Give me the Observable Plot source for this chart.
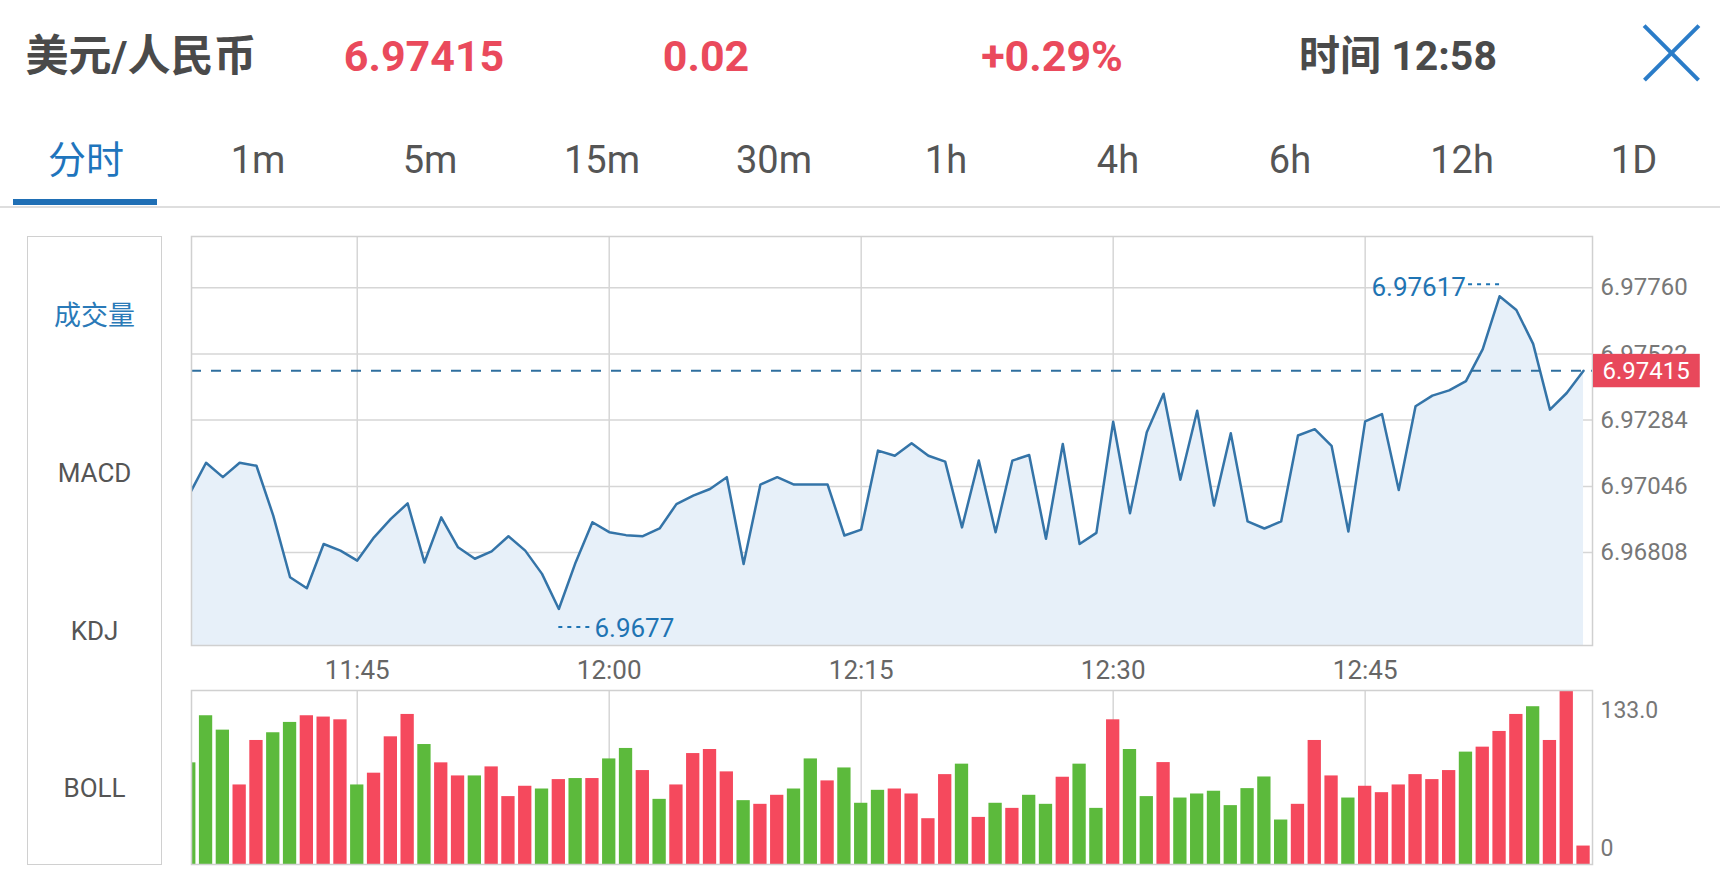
<!DOCTYPE html>
<html>
<head>
<meta charset="utf-8">
<script src="https://cdn.jsdelivr.net/npm/d3@7"></script>
<script src="https://cdn.jsdelivr.net/npm/@observablehq/plot@0.6"></script>
<style>
  html, body { margin: 0; padding: 0; background: #fff; width: 1720px; height: 884px; overflow: hidden;
    font-family: Roboto, "Noto Sans CJK SC", sans-serif; }
  #page { position: relative; width: 1720px; height: 884px; background: #fff; }
  .hd { position: absolute; top: 56px; transform: translate(-50%, -50%); line-height: 1; font-weight: 700;
    font-size: 43px; white-space: nowrap; }
  .dark { color: #4a4a4a; }
  .red { color: #ea4a5c; }
  #tabs { position: absolute; left: 0; top: 160px; width: 1720px; display: flex; transform: translateY(-50%); }
  #tabs div { width: 172px; text-align: center; font-size: 38px; line-height: 1; color: #555; }
  #tabs div.on { color: #1f75bd; }
  #underline { position: absolute; left: 13px; top: 199px; width: 144px; height: 6px; background: #1f6fb5; }
  #sep { position: absolute; left: 0; top: 206px; width: 1720px; height: 1.5px; background: #dedede; }
  #close { position: absolute; left: 1644px; top: 25px; width: 54px; height: 55px; }
  #close span { position: absolute; left: -11px; top: 26px; width: 77px; height: 3.5px; background: #2a7cc8; }
  #side { position: absolute; left: 27px; top: 236px; width: 135px; height: 629px; box-sizing: border-box;
    border: 1.5px solid #d0d0d0; }
  .side { position: absolute; left: 94.5px; transform: translate(-50%, -50%); line-height: 1; font-size: 26px;
    color: #555; white-space: nowrap; }
  #main { position: absolute; left: 175px; top: 220px; }
  #vol { position: absolute; left: 175px; top: 685px; }
</style>
</head>
<body>
<div id="page">
  <div class="hd dark" style="left:141px">美元/人民币</div>
  <div class="hd red" id="hPrice" style="left:424px"></div>
  <div class="hd red" id="hChange" style="left:706px"></div>
  <div class="hd red" id="hPct" style="left:1052px"></div>
  <div class="hd dark" id="hTime" style="left:1398px;font-size:41px"></div>
  <div id="close"><span style="transform:rotate(45deg)"></span><span style="transform:rotate(-45deg)"></span></div>
  <div id="tabs"></div>
  <div id="underline"></div>
  <div id="sep"></div>
  <div id="side"></div>
  <div class="side" style="top:316px;color:#2a7ab8;font-size:27px">成交量</div>
  <div class="side" style="top:473px">MACD</div>
  <div class="side" style="top:631px">KDJ</div>
  <div class="side" style="top:788px">BOLL</div>
  <div id="main"></div>
  <div id="vol"></div>
</div>
<script>
// ---------------- data ----------------
const pairName = "美元/人民币";
const headerPrice = "6.97415";
const headerChange = "0.02";
const headerPct = "+0.29%";
const headerTime = "12:58";
const tabLabels = ["分时", "1m", "5m", "15m", "30m", "1h", "4h", "6h", "12h", "1D"];

const startTime = "11:35";   // one point per minute, 11:35 … 12:58
const prices = [
  6.97080, 6.97166, 6.97127, 6.97166, 6.97158, 6.97023, 6.96856, 6.96826, 6.96946, 6.96928,
  6.96901, 6.96964, 6.97014, 6.97056, 6.96896, 6.97018, 6.96937, 6.96906, 6.96926, 6.96967,
  6.96928, 6.96865, 6.96770, 6.96896, 6.97005, 6.96978, 6.96970, 6.96967, 6.96988, 6.97054,
  6.97077, 6.97095, 6.97127, 6.96892, 6.97107, 6.97127, 6.97107, 6.97107, 6.97107, 6.96969,
  6.96985, 6.97199, 6.97185, 6.97219, 6.97185, 6.97169, 6.96991, 6.97172, 6.96978, 6.97172,
  6.97187, 6.96960, 6.97217, 6.96946, 6.96976, 6.97277, 6.97029, 6.97249, 6.97353, 6.97120,
  6.97307, 6.97050, 6.97246, 6.97007, 6.96988, 6.97007, 6.97240, 6.97257, 6.97212, 6.96980,
  6.97278, 6.97298, 6.97092, 6.97319, 6.97348, 6.97362, 6.97387, 6.97474, 6.97617, 6.97580,
  6.97488, 6.97310, 6.97355, 6.97415
];
const volumes = [
  77.7, 113.7, 102.7, 60.8, 94.8, 100.7, 108.6, 113.7, 112.7, 110.6,
  60.8, 69.8, 97.6, 114.7, 91.7, 77.7, 67.7, 67.7, 74.6, 51.9,
  59.8, 57.7, 64.9, 65.7, 65.7, 80.7, 88.7, 71.8, 49.8, 60.8,
  84.8, 87.9, 70.8, 48.8, 46.0, 52.9, 57.7, 80.7, 63.9, 73.8,
  46.8, 56.7, 57.7, 53.9, 35.0, 68.7, 76.7, 36.0, 46.8, 42.9,
  52.9, 46.0, 66.7, 76.7, 42.9, 110.6, 87.9, 51.9, 77.9, 50.8,
  53.9, 56.0, 45.0, 58.0, 66.9, 34.0, 46.0, 94.8, 67.7, 50.8,
  59.8, 54.9, 60.8, 68.7, 64.9, 71.8, 85.9, 89.7, 101.7, 114.7,
  120.6, 94.8, 133.0, 14.1
];
// r = up (red), g = down (green)
const barDirections = (
  "gggrrggrrr" + "grrrgrrgrr" + "rgrgrggrgr" + "rrrgrrggrg" + "ggrrrrgrgr" +
  "ggrggrggrg" + "ggggggrrrg" + "rrrrrrgrrr" + "grrr").split("");

const currentPrice = 6.97415;
const currentLabel = "6.97415";
const xTickLabels = ["11:45", "12:00", "12:15", "12:30", "12:45"];
const yGridValues = [6.96923, 6.97102, 6.97282, 6.97461, 6.97640];
const yTickLabels = ["6.96808", "6.97046", "6.97284", "6.97522", "6.97760"];
const yDomain = [6.96671, 6.97779];

// ---------------- header ----------------
document.getElementById("hPrice").textContent = headerPrice;
document.getElementById("hChange").textContent = headerChange;
document.getElementById("hPct").textContent = headerPct;
document.getElementById("hTime").textContent = "时间 " + headerTime;
const tabs = document.getElementById("tabs");
tabLabels.forEach((t, i) => {
  const d = document.createElement("div");
  d.textContent = t;
  if (i === 0) d.className = "on";
  tabs.appendChild(d);
});

// ---------------- chart ----------------
const parseHM = s => { const [h, m] = s.split(":").map(Number); return new Date(Date.UTC(2019, 0, 1, h, m)); };
const t0 = parseHM(startTime);
const times = prices.map((_, i) => d3.utcMinute.offset(t0, i));
const data = times.map((t, i) => ({time: t, price: prices[i], vol: volumes[i], dir: barDirections[i] === "r" ? "up" : "down"}));
const xTicks = xTickLabels.map(parseHM);
const xDomain = [d3.utcSecond.offset(times[0], 8), d3.utcSecond.offset(times[times.length - 1], 32)];

const gridColor = "#d6d6d6";
const blue = "#1f74b3";
const maxI = d3.maxIndex(prices), minI = d3.minIndex(prices);
const fmt = d => String(+d.toFixed(5));

const main = Plot.plot({
  width: 1545, height: 465,
  marginLeft: 16, marginRight: 128, marginTop: 16, marginBottom: 40,
  style: {fontFamily: "Roboto, sans-serif", background: "transparent", overflow: "visible"},
  x: {type: "utc", domain: xDomain, label: null},
  y: {domain: yDomain, label: null},
  marks: [
    Plot.gridY(yGridValues, {stroke: gridColor, strokeOpacity: 1, strokeWidth: 1.5}),
    Plot.gridX(xTicks, {stroke: gridColor, strokeOpacity: 1, strokeWidth: 1.5}),
    Plot.areaY(data, {x: "time", y: "price", fill: "#e7f0f9", clip: true}),
    Plot.lineY(data, {x: "time", y: "price", stroke: "#3474a8", strokeWidth: 2.5, clip: true}),
    Plot.ruleY([currentPrice], {stroke: "#2f6f9f", strokeWidth: 2, strokeDasharray: "10,10"}),
    Plot.frame({stroke: "#d0d0d0", strokeWidth: 1.5}),
    Plot.axisX(xTicks, {tickSize: 0, tickPadding: 15, fontSize: 26, fill: "#666", tickFormat: "%H:%M", label: null}),
    Plot.axisY(yGridValues, {anchor: "right", tickSize: 0, tickPadding: 8, fontSize: 24, fill: "#777",
      tickFormat: d => yTickLabels[yGridValues.indexOf(d)], label: null}),
    // max annotation
    Plot.ruleY([prices[maxI]], {x1: () => times[maxI], x2: () => d3.utcMinute.offset(times[maxI], -2),
      dy: -12, stroke: blue, strokeWidth: 2, strokeDasharray: "4,5"}),
    Plot.text([prices[maxI]], {x: () => d3.utcMinute.offset(times[maxI], -2), y: d => d, text: fmt,
      textAnchor: "end", dy: -9, fontSize: 26, fill: blue}),
    // min annotation
    Plot.ruleY([prices[minI]], {x1: () => times[minI], x2: () => d3.utcMinute.offset(times[minI], 2),
      dy: 18, stroke: blue, strokeWidth: 2, strokeDasharray: "4,5"}),
    Plot.text([prices[minI]], {x: () => d3.utcMinute.offset(times[minI], 2), y: d => d, text: fmt,
      textAnchor: "start", dx: 2, dy: 20, fontSize: 26, fill: blue}),
    // current price label
    Plot.text([currentPrice], {y: d => d, frameAnchor: "right", textAnchor: "start", dx: 10,
      text: () => currentLabel, fill: "white", fontSize: 24})
  ]
});
document.getElementById("main").appendChild(main);

// red box behind the current price label
const lbl = Array.from(main.querySelectorAll("text")).find(t => t.textContent === currentLabel);
if (lbl) {
  const bb = lbl.getBBox();
  const cy = bb.y + bb.height / 2;
  const rect = document.createElementNS("http://www.w3.org/2000/svg", "rect");
  rect.setAttribute("x", bb.x - 9.5);
  rect.setAttribute("y", cy - 16.7);
  rect.setAttribute("width", bb.width + 19.5);
  rect.setAttribute("height", 33.4);
  rect.setAttribute("fill", "#e8485b");
  if (lbl.getAttribute("transform")) rect.setAttribute("transform", lbl.getAttribute("transform"));
  lbl.parentNode.insertBefore(rect, lbl);
}

const volMax = d3.max(volumes);
const vol = Plot.plot({
  width: 1545, height: 199,
  marginLeft: 16, marginRight: 128, marginTop: 5, marginBottom: 20,
  style: {fontFamily: "Roboto, sans-serif", background: "transparent", overflow: "visible"},
  x: {type: "utc", domain: xDomain, axis: null},
  y: {domain: [0, volMax], axis: null},
  color: {domain: ["up", "down"], range: ["#f5495d", "#5cba3c"]},
  marks: [
    Plot.gridX(xTicks, {stroke: gridColor, strokeOpacity: 1, strokeWidth: 1.5}),
    Plot.rectY(data, {x1: d => d3.utcSecond.offset(d.time, -30), x2: d => d3.utcSecond.offset(d.time, 30),
      y: "vol", fill: "dir", insetLeft: 1.75, insetRight: 1.75, clip: true}),
    Plot.frame({stroke: "#d0d0d0", strokeWidth: 1.5}),
    Plot.text([volMax], {y: d => d, frameAnchor: "right", textAnchor: "start", dx: 8, dy: 20,
      text: d => d.toFixed(1), fontSize: 23, fill: "#777"}),
    Plot.text([0], {y: d => d, frameAnchor: "right", textAnchor: "start", dx: 8, dy: -16,
      text: d => String(d), fontSize: 23, fill: "#777"})
  ]
});
document.getElementById("vol").appendChild(vol);
</script>
</body>
</html>
